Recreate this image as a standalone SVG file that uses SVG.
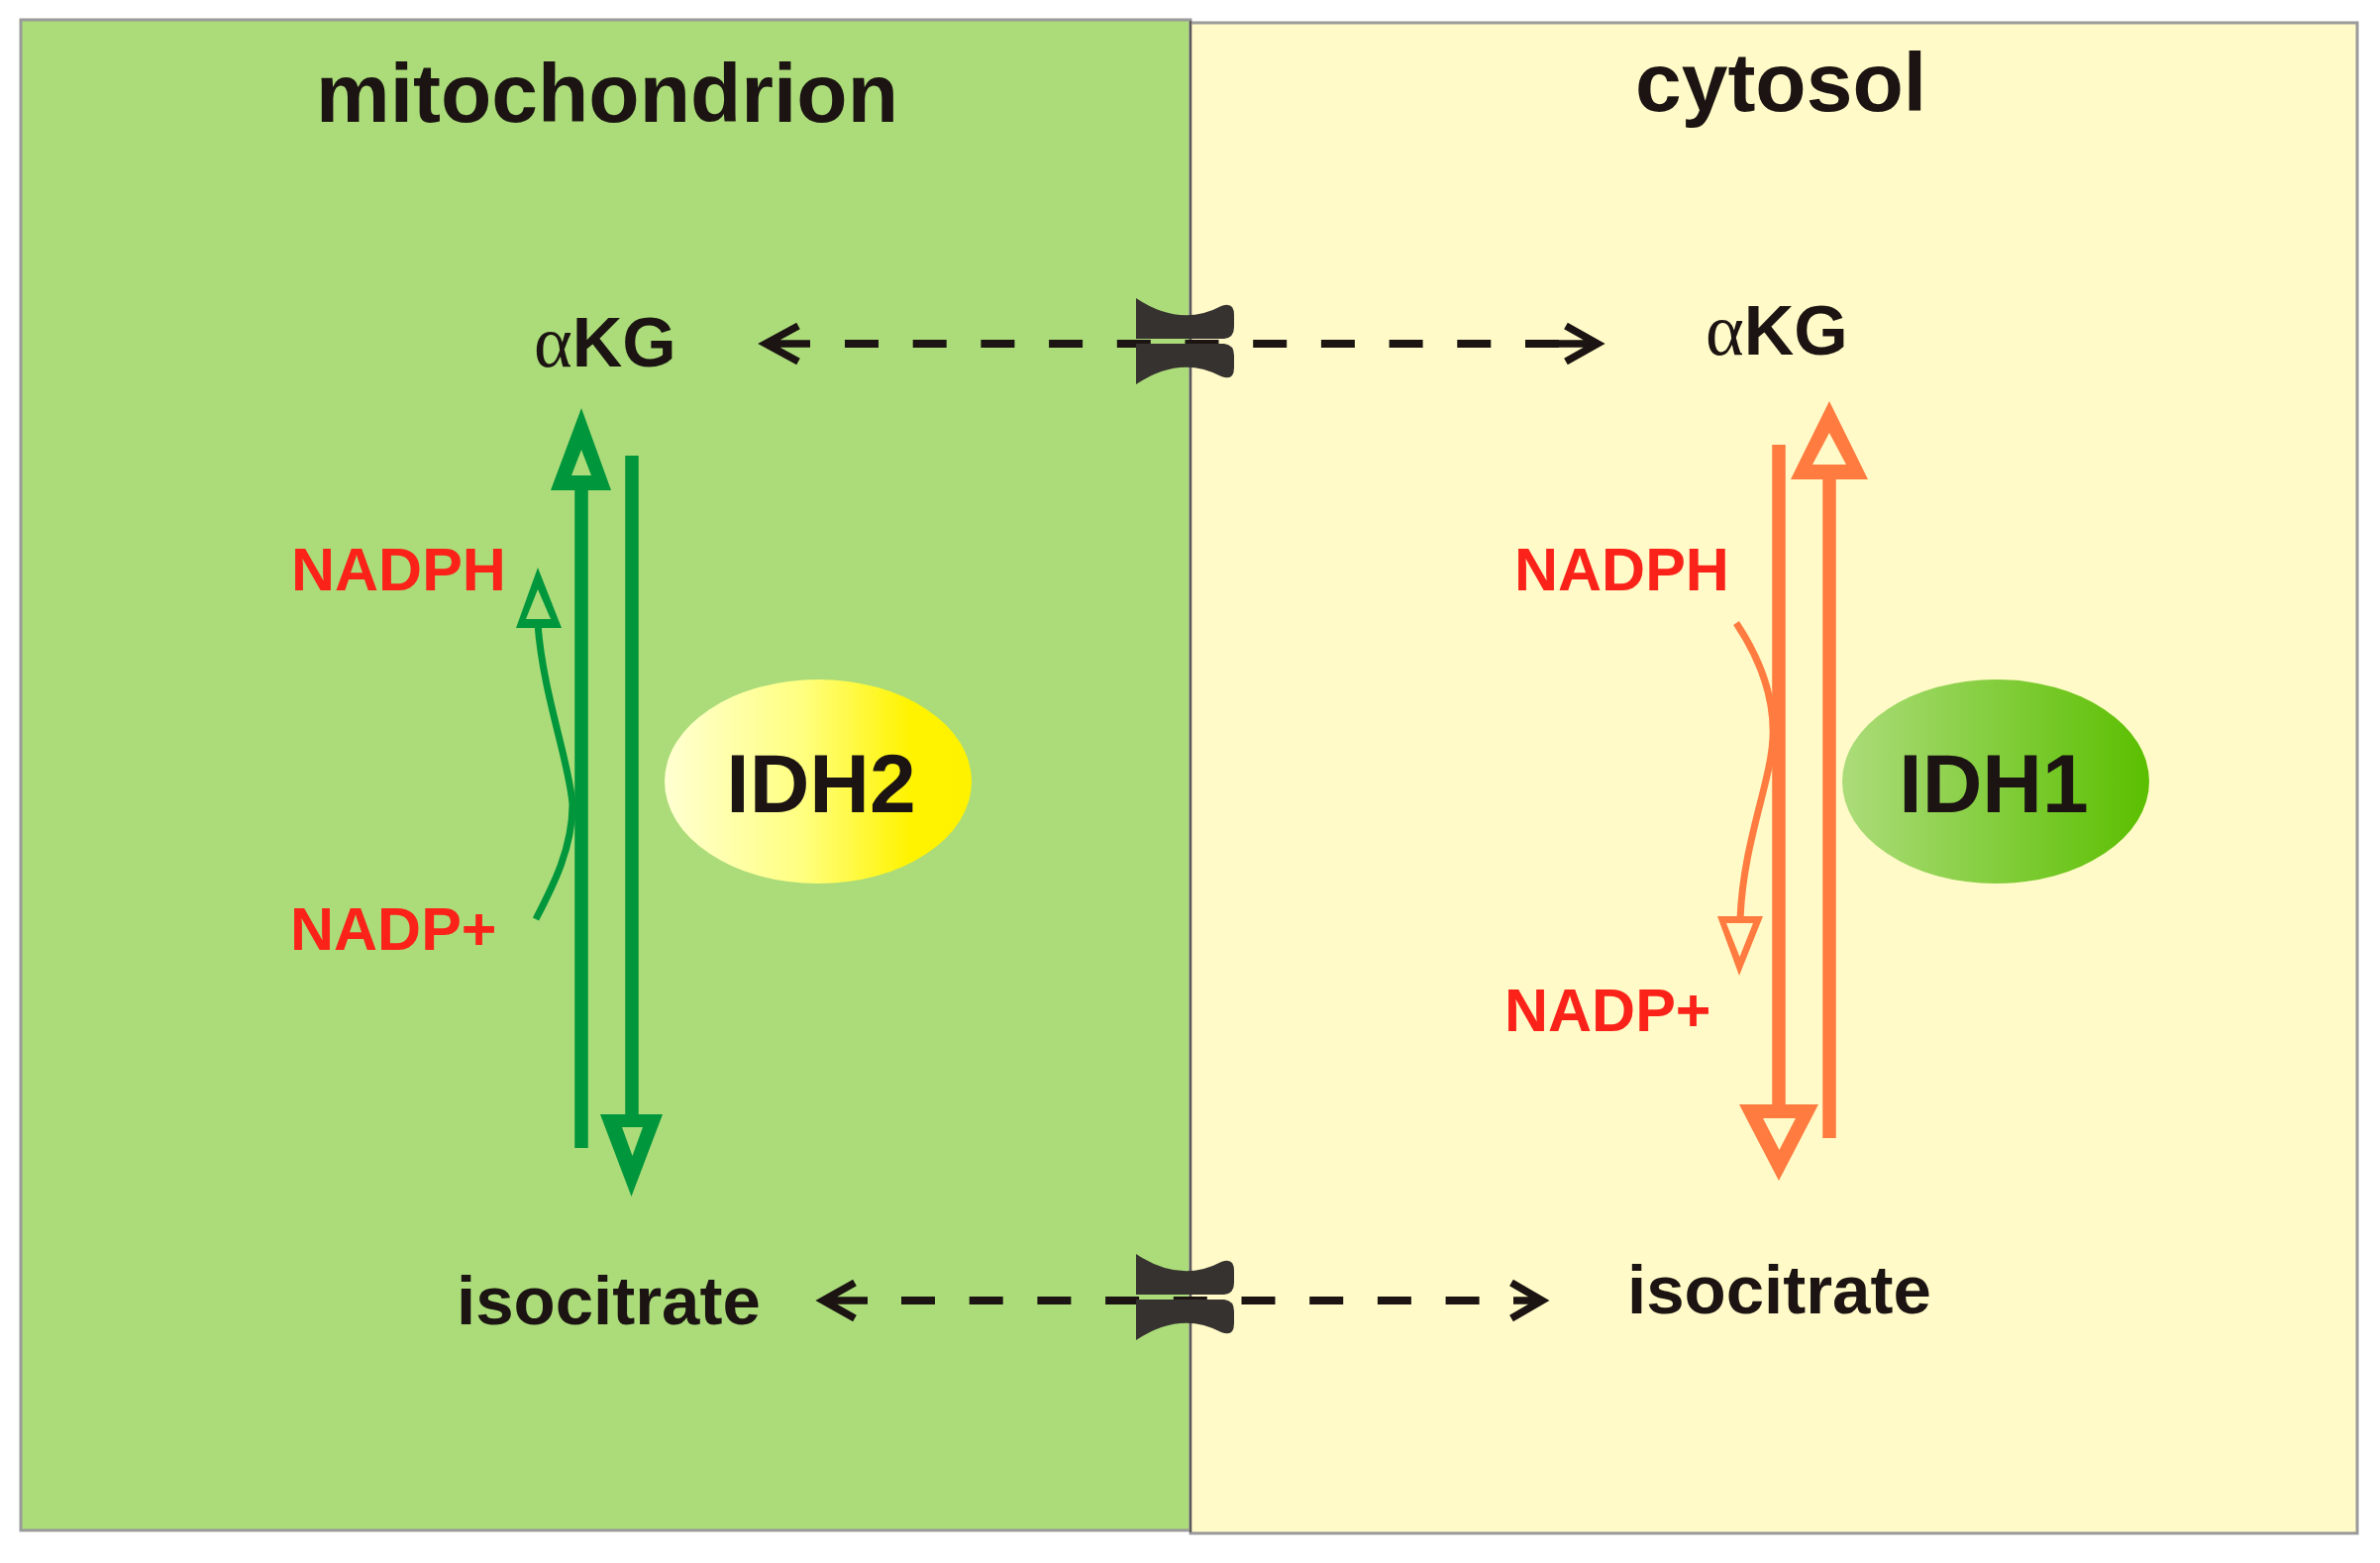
<svg xmlns="http://www.w3.org/2000/svg" width="2403" height="1578" viewBox="0 0 2403 1578">
<style>
.t{font-family:"Liberation Sans",Arial,sans-serif;font-weight:bold;fill:#1b1412}
.title{font-size:84px;text-anchor:middle}
.met{font-size:70px}
.alpha{font-family:"Liberation Serif","Times New Roman",serif;font-weight:normal;font-size:74px}
.co{font-family:"Liberation Sans",Arial,sans-serif;font-weight:bold;font-size:61px;fill:#fa2219}
.enz{font-size:84px;text-anchor:middle}
.dash{stroke:#1b1412;stroke-width:8;stroke-dasharray:34 34.7;fill:none}
.chev{stroke:#1b1412;stroke-width:7.5;fill:none;stroke-linejoin:miter}
.gs{stroke:#00963c;stroke-width:13.5;fill:none}
.os{stroke:#ff7b40;stroke-width:13.5;fill:none}
</style>
<defs>
<linearGradient id="gIDH2" x1="0" y1="0" x2="1" y2="0">
<stop offset="0" stop-color="#ffffd2"/>
<stop offset="0.45" stop-color="#ffff80"/>
<stop offset="0.8" stop-color="#fff300"/>
<stop offset="1" stop-color="#fff200"/>
</linearGradient>
<linearGradient id="gIDH1" x1="0" y1="0" x2="1" y2="0">
<stop offset="0" stop-color="#acdc7a"/>
<stop offset="1" stop-color="#5bbf00"/>
</linearGradient>
<g id="transporter" fill="#363230">
<path d="M1147,301 Q1192,331 1233,309 Q1246,304 1246,318 L1246,330 Q1246,341 1236,342 L1147,342 Z"/>
<path d="M1147,388 Q1192,358 1233,380 Q1246,385 1246,371 L1246,359 Q1246,348 1236,347 L1147,347 Z"/>
</g>
</defs>

<g id="compartments">
<rect id="mitochondrion-panel" x="21" y="20" width="1181" height="1525" fill="#abdc79" stroke="#9a9a9a" stroke-width="3"/>
<rect id="cytosol-panel" x="1202" y="23" width="1178" height="1525" fill="#fffac7" stroke="#9a9a9a" stroke-width="3"/>
<line x1="1202" y1="21" x2="1202" y2="1547" stroke="#4a4540" stroke-width="1.5"/>
</g>

<g id="connectors">
<!-- top transport aKG -->
<path class="chev" d="M806,329 L773,347 L806,365 M773,347 L818,347"/>
<line class="dash" x1="853" y1="347" x2="1574" y2="347"/>
<path class="chev" d="M1581,329 L1613,347 L1581,365 M1540,347 L1612,347"/>
<!-- bottom transport isocitrate -->
<path class="chev" d="M863,1295 L831,1313 L863,1331 M831,1313 L876,1313"/>
<line class="dash" x1="910" y1="1313" x2="1494" y2="1313"/>
<path class="chev" d="M1526,1295 L1557,1313 L1526,1331 M1528,1313 L1556,1313"/>
<!-- IDH2 green arrows -->
<line class="gs" x1="587" y1="490" x2="587" y2="1159"/>
<path fill="#00963c" fill-rule="evenodd" d="M587,412 L617,495 L556,495 Z M587,454 L577,480 L597,480 Z"/>
<line class="gs" x1="638" y1="460" x2="638" y2="1130"/>
<path fill="#00963c" fill-rule="evenodd" d="M606,1125 L669,1125 L637.5,1208 Z M628,1138 L649,1138 L638.5,1167 Z"/>
<path stroke="#00963c" stroke-width="7" fill="none" d="M541,928 C558,895 578,857 578,812 C575,770 548,700 543,630"/>
<path fill="#00963c" fill-rule="evenodd" d="M543,573 L567,634 L521,634 Z M543,595 L556,625 L531,625 Z"/>
<!-- IDH1 orange arrows -->
<line class="os" x1="1796" y1="449" x2="1796" y2="1120"/>
<path fill="#ff7b40" fill-rule="evenodd" d="M1756,1115 L1836,1115 L1796,1192 Z M1780,1129 L1813,1129 L1796.5,1161 Z"/>
<line class="os" x1="1847" y1="480" x2="1847" y2="1149"/>
<path fill="#ff7b40" fill-rule="evenodd" d="M1847,405 L1886,484 L1808,484 Z M1847,437 L1864,469 L1830,469 Z"/>
<path stroke="#ff7b40" stroke-width="7" fill="none" d="M1753,629 C1775,662 1792,700 1790,745 C1788,790 1760,850 1757,928"/>
<path fill="#ff7b40" fill-rule="evenodd" d="M1756,985 L1734,925 L1780,925 Z M1756.5,966 L1743,932 L1770,932 Z"/>
</g>

<g id="transporter-akg"><use href="#transporter"/></g>
<g id="transporter-isocitrate"><use href="#transporter" transform="translate(0,965)"/></g>

<g id="label-mitochondrion"><text class="t title" x="613" y="123">mitochondrion</text></g>
<g id="label-cytosol"><text class="t title" x="1798" y="112">cytosol</text></g>

<g id="akg-mito"><text class="t met" x="539" y="370"><tspan class="alpha">α</tspan>KG</text></g>
<g id="akg-cyto"><text class="t met" x="1722" y="358"><tspan class="alpha">α</tspan>KG</text></g>
<g id="isocitrate-mito"><text class="t met" x="461" y="1337" style="font-size:69px">isocitrate</text></g>
<g id="isocitrate-cyto"><text class="t met" x="1643" y="1326" style="font-size:69px">isocitrate</text></g>

<g id="nadph-mito"><text class="co" x="294" y="596">NADPH</text></g>
<g id="nadp-mito"><text class="co" x="293" y="959">NADP+</text></g>
<g id="nadph-cyto"><text class="co" x="1529" y="596">NADPH</text></g>
<g id="nadp-cyto"><text class="co" x="1519" y="1041">NADP+</text></g>

<g id="idh2">
<ellipse cx="826" cy="789" rx="155" ry="103" fill="url(#gIDH2)"/>
<text class="t enz" x="829" y="820">IDH2</text>
</g>
<g id="idh1">
<ellipse cx="2015" cy="789" rx="155" ry="103" fill="url(#gIDH1)"/>
<text class="t enz" x="2013" y="820">IDH1</text>
</g>
</svg>
